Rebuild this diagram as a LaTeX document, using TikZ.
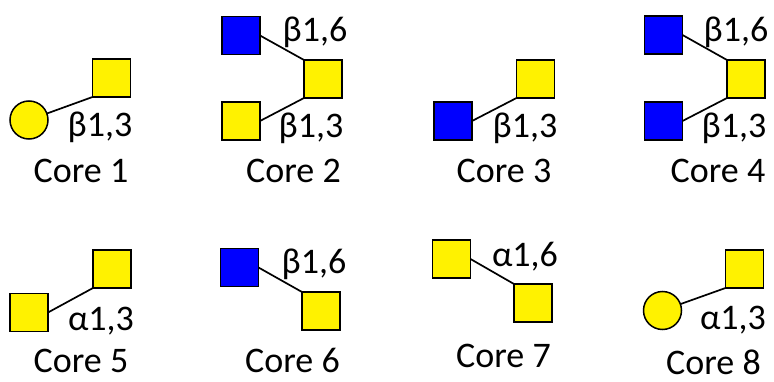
\documentclass[tikz,border=0pt]{standalone}
\usepackage{fontspec}
\setmainfont{Carlito}
\begin{document}
\begin{tikzpicture}[x=1pt,y=-1pt,
  gsq/.style={draw=black,line width=1.5pt,minimum size=38pt,inner sep=0pt,outer sep=0pt},
  gcirc/.style={circle,draw=black,line width=1.5pt,minimum size=38pt,inner sep=0pt,outer sep=0pt,fill=yellow},
  ysq/.style={gsq,fill=yellow},
  bsq/.style={gsq,fill=blue},
  link/.style={draw=black,line width=1.7pt},
  lbl/.style={anchor=base,inner sep=0pt,text depth=0pt,font=\fontsize{36}{40}\selectfont}]
\path[use as bounding box,fill=white] (0,0) rectangle (774,382);
% Core 1
\node[gcirc] (c1a) at (29,120) {};
\node[ysq] (c1b) at (111.5,78) {};
\draw[link] (c1a) -- (c1b.south west);
\node[lbl] (c1l) at (100,137) {β1,3};
\node[lbl] (c1t) at (81,183) {Core 1};
% Core 2
\node[bsq] (c2a) at (241,35.5) {};
\node[ysq] (c2b) at (323,79) {};
\node[ysq] (c2c) at (241,121) {};
\draw[link] (c2a.east) -- (c2b.north west);
\draw[link] (c2c.east) -- (c2b.south west);
\node[lbl] (c2l1) at (315,42) {β1,6};
\node[lbl] (c2l2) at (311,138) {β1,3};
\node[lbl] (c2t) at (293.5,183) {Core 2};
% Core 3
\node[bsq] (c3a) at (453,121) {};
\node[ysq] (c3b) at (535.5,79) {};
\draw[link] (c3a.east) -- (c3b.south west);
\node[lbl] (c3l) at (525,138) {β1,3};
\node[lbl] (c3t) at (504,183) {Core 3};
% Core 4
\node[bsq] (c4a) at (663.5,35) {};
\node[ysq] (c4b) at (746,79) {};
\node[bsq] (c4c) at (663.5,121) {};
\draw[link] (c4a.east) -- (c4b.north west);
\draw[link] (c4c.east) -- (c4b.south west);
\node[lbl] (c4l1) at (736,42) {β1,6};
\node[lbl] (c4l2) at (734,138) {β1,3};
\node[lbl] (c4t) at (718,183) {Core 4};
% Core 5
\node[ysq] (c5a) at (29,312.5) {};
\node[ysq] (c5b) at (112,269) {};
\draw[link] (c5a.east) -- (c5b.south west);
\node[lbl] (c5l) at (101,330) {α1,3};
\node[lbl] (c5t) at (81,372) {Core 5};
% Core 6
\node[bsq] (c6a) at (239.5,267.5) {};
\node[ysq] (c6b) at (321,311) {};
\draw[link] (c6a.east) -- (c6b.north west);
\node[lbl] (c6l) at (314,273) {β1,6};
\node[lbl] (c6t) at (292.5,372) {Core 6};
% Core 7
\node[ysq] (c7a) at (451.5,259) {};
\node[ysq] (c7b) at (533,303) {};
\draw[link] (c7a.east) -- (c7b.north west);
\node[lbl] (c7l) at (525,266) {α1,6};
\node[lbl] (c7t) at (503.5,367) {Core 7};
% Core 8
\node[gcirc] (c8a) at (662.5,310.5) {};
\node[ysq] (c8b) at (744.5,269) {};
\draw[link] (c8a) -- (c8b.south west);
\node[lbl] (c8l) at (733,329) {α1,3};
\node[lbl] (c8t) at (713.5,374) {Core 8};
\end{tikzpicture}
\end{document}
